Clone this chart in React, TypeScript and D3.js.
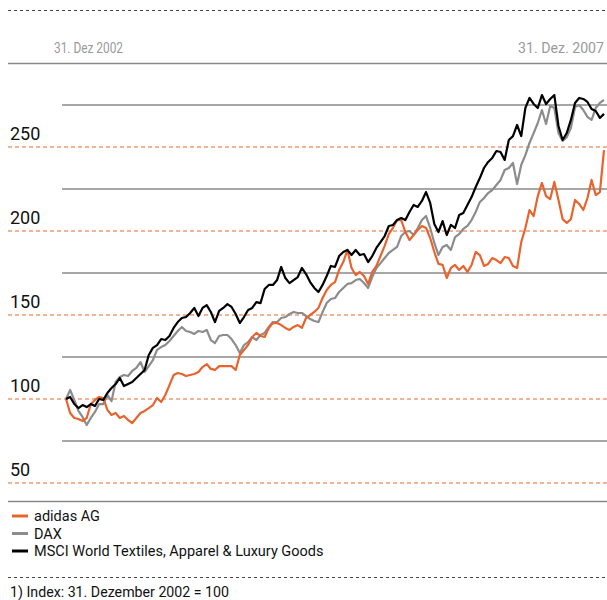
import React from 'react';
import * as d3 from 'd3';

// Index values, 31 Dec 2002 = 100, every two weeks
const adidas = [
  100, 91.7, 88.7, 88.1, 86.9, 88.7, 97.0, 99.4, 101.2, 100.6,
  93.5, 90.5, 91.7, 88.7, 89.9, 87.5, 85.7, 88.7, 91.7, 92.9,
  94.6, 96.4, 100.6, 98.2, 102.4, 108.3, 114.3, 115.5, 114.9, 113.7,
  114.3, 114.9, 116.1, 119.0, 120.8, 117.9, 117.3, 119.6, 119.6, 119.6,
  119.6, 117.3, 126.2, 129.2, 132.1, 136.9, 139.3, 137.5, 136.9, 142.3,
  145.2, 145.2, 144.0, 142.3, 141.1, 142.9, 144.0, 142.3, 148.2, 150.0,
  151.8, 154.2, 160.1, 164.9, 167.9, 169.6, 176.8, 181.5, 188.7, 178.0,
  173.8, 175.6, 173.2, 168.5, 175.6, 179.2, 185.1, 191.1, 198.2, 201.8,
  206.5, 206.5, 199.4, 194.6, 197.6, 200.6, 203.0, 201.8, 195.8, 187.5,
  180.4, 179.8, 172.0, 178.0, 179.8, 176.8, 179.2, 175.6, 179.8, 187.5,
  185.7, 179.2, 180.4, 183.9, 182.7, 180.9, 184.5, 183.9, 179.2, 178.0,
  193.4, 201.8, 212.5, 208.9, 220.8, 228.6, 220.8, 219.0, 229.2, 218.5,
  207.1, 204.8, 207.1, 218.5, 216.1, 212.5, 219.6, 230.4, 221.4, 223.2,
  248.2,
];

const dax = [
  100, 105.4, 99.4, 92.9, 89.3, 84.5, 88.7, 92.3, 97.0, 97.0,
  102.4, 98.8, 110.1, 113.1, 114.3, 113.7, 116.7, 118.5, 122.0, 116.1,
  119.6, 123.2, 129.2, 130.9, 132.1, 134.5, 137.5, 140.5, 142.9, 140.5,
  139.9, 138.7, 140.5, 139.9, 141.1, 135.1, 133.3, 137.5, 138.1, 138.1,
  135.7, 132.1, 127.4, 132.1, 133.9, 136.9, 135.1, 138.1, 139.3, 142.9,
  145.8, 145.8, 148.2, 148.8, 150.6, 151.8, 151.2, 151.2, 149.4, 147.6,
  146.4, 145.8, 151.8, 157.1, 159.5, 160.1, 163.7, 166.1, 168.5, 169.0,
  170.8, 171.4, 169.0, 166.1, 172.6, 178.0, 180.9, 183.9, 186.9, 188.7,
  190.5, 197.0, 199.4, 200.0, 197.6, 201.8, 206.5, 208.9, 201.8, 192.9,
  185.7, 190.5, 191.7, 188.7, 196.4, 198.2, 201.2, 203.0, 206.5, 211.3,
  217.3, 219.6, 222.6, 224.4, 227.4, 230.4, 236.3, 237.5, 240.5, 228.0,
  239.3, 245.2, 252.4, 258.3, 264.3, 272.0, 263.7, 274.4, 273.2, 258.3,
  253.6, 255.9, 261.3, 273.8, 275.0, 272.0, 267.9, 266.1, 273.2, 276.2,
  278.0,
];

const msci = [
  100, 101.2, 97.0, 94.6, 96.4, 95.2, 97.0, 95.8, 100.0, 99.4,
  103.6, 106.5, 108.9, 112.5, 107.7, 108.9, 110.1, 112.5, 114.9, 117.3,
  126.2, 130.4, 132.1, 135.7, 135.1, 137.5, 142.3, 145.8, 148.2, 148.8,
  151.2, 154.2, 149.4, 154.2, 155.9, 151.8, 145.8, 152.4, 154.2, 156.5,
  154.8, 150.6, 145.2, 148.8, 153.0, 154.2, 157.7, 157.1, 165.5, 167.9,
  167.9, 170.8, 178.6, 172.0, 169.0, 170.8, 172.6, 178.0, 174.4, 169.6,
  166.1, 163.7, 167.9, 173.2, 179.2, 178.6, 185.1, 187.5, 188.7, 185.7,
  188.7, 185.7, 186.3, 181.5, 185.1, 189.9, 193.4, 197.0, 203.0, 203.6,
  206.5, 207.7, 206.5, 211.3, 215.5, 214.3, 217.9, 223.2, 216.7, 204.2,
  199.4, 205.9, 197.6, 203.6, 201.8, 209.5, 210.7, 215.5, 220.2, 226.2,
  231.5, 237.5, 241.1, 243.5, 247.6, 247.0, 242.3, 254.2, 256.5, 263.1,
  256.5, 273.2, 279.2, 275.6, 273.2, 280.9, 275.6, 278.6, 280.9, 262.5,
  254.2, 258.3, 266.1, 276.2, 279.2, 278.6, 276.8, 272.6, 271.4, 267.3,
  269.7,
];

const yLabels = [250, 200, 150, 100, 50];
const midLines = [275, 225, 175, 125, 75];
const dateLabels = ['31. Dez 2002', '31. Dez. 2007'];
const seriesNames = ['adidas AG', 'DAX', 'MSCI World Textiles, Apparel & Luxury Goods'];
const seriesColors = ['#e8642e', '#8c8c8c', '#000000'];
const footnote = '1) Index: 31. Dezember 2002 = 100';

const W = 607;
const H = 600;
const FONT = "Roboto, 'DejaVu Sans Condensed', sans-serif";

export default function App() {
  const start = new Date(2002, 11, 31);
  const dates = adidas.map((_, i) => d3.timeDay.offset(start, i * 14));

  const x = d3.scaleTime()
    .domain([dates[0], dates[dates.length - 1]])
    .range([66, 604]);
  const y = d3.scaleLinear().domain([100, 250]).range([399, 147]);

  const line = d3.line<number>()
    .x((_, i) => x(dates[i]))
    .y(d => y(d));

  // drawing order: DAX, adidas, MSCI on top
  const series = [
    { values: dax, color: seriesColors[1] },
    { values: adidas, color: seriesColors[0] },
    { values: msci, color: seriesColors[2] },
  ];

  return (
    <svg width={W} height={H} style={{ position: 'absolute', left: 0, top: 0, fontFamily: FONT }}>
      <rect width={W} height={H} fill="#fff" />

      {/* header */}
      <line x1={8} x2={W} y1={10.5} y2={10.5} stroke="#444" strokeDasharray="3,3" />
      <text x={54} y={53} fontSize={14.5} fill="#9a9a9a"
        textLength={69} lengthAdjust="spacingAndGlyphs">{dateLabels[0]}</text>
      <text x={518} y={53} fontSize={14.5} fill="#9a9a9a"
        textLength={86} lengthAdjust="spacingAndGlyphs">{dateLabels[1]}</text>
      <line x1={8} x2={W} y1={63.5} y2={63.5} stroke="#8a8a8a" strokeWidth={1.5} />

      {/* grid */}
      {midLines.map(v => (
        <line key={v} x1={62} x2={W} y1={y(v)} y2={y(v)} stroke="#8a8a8a" strokeWidth={1.5} />
      ))}
      {yLabels.map(v => (
        <g key={v}>
          <line x1={8} x2={W} y1={y(v)} y2={y(v)} stroke="#e8642e" strokeDasharray="4,3" />
          <text x={10} y={y(v) - 7} fontSize={18} fill="#111">{v}</text>
        </g>
      ))}

      {/* series */}
      {series.map((s, i) => (
        <path key={i} d={line(s.values) || ''} fill="none" stroke={s.color}
          strokeWidth={2.2} strokeLinejoin="round" />
      ))}

      {/* legend */}
      <line x1={8} x2={W} y1={501.5} y2={501.5} stroke="#8a8a8a" strokeWidth={1.5} />
      {seriesNames.map((name, i) => (
        <g key={name} transform={`translate(0,${516 + i * 17.5})`}>
          <line x1={12} x2={28} y1={0} y2={0} stroke={seriesColors[i]} strokeWidth={3} />
          <text x={34} y={5} fontSize={14.5} fill="#111">{name}</text>
        </g>
      ))}

      <line x1={8} x2={W} y1={577.5} y2={577.5} stroke="#444" strokeDasharray="3,3" />
      <text x={10} y={597} fontSize={14.2} fill="#111">{footnote}</text>
    </svg>
  );
}
